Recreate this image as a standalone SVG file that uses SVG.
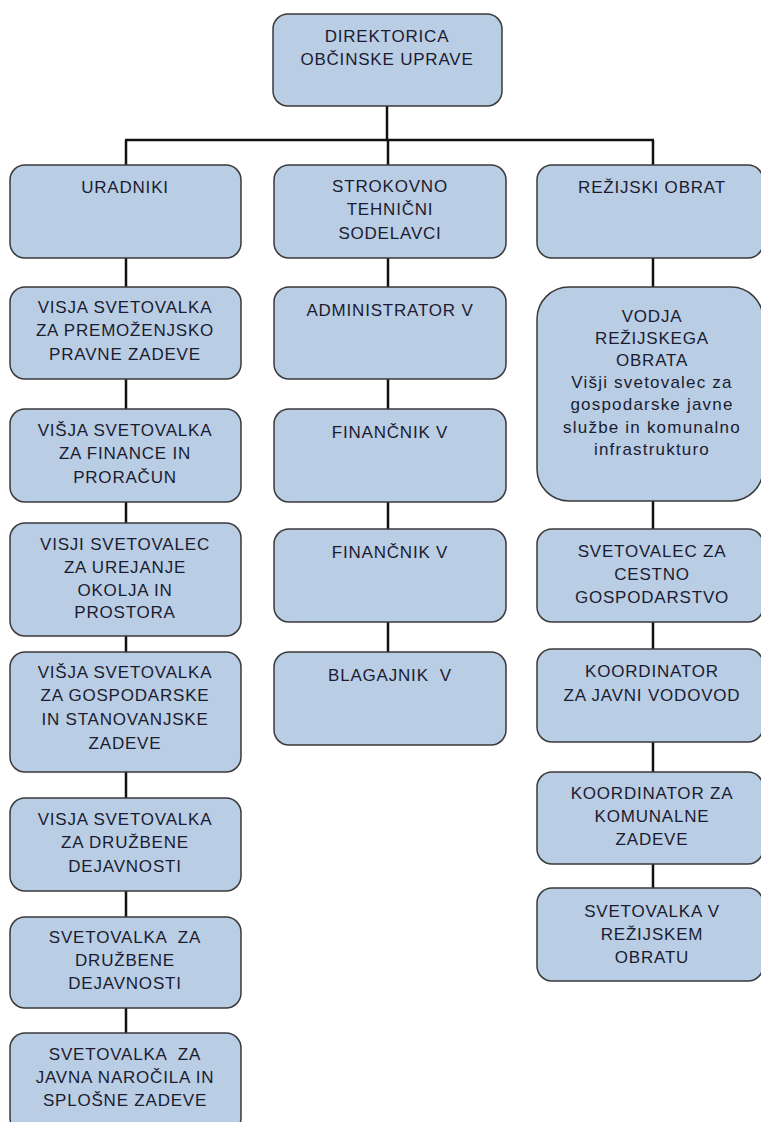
<svg xmlns="http://www.w3.org/2000/svg" width="761" height="1122" viewBox="0 0 761 1122">
<style>
.box{fill:#B9CDE5;stroke:#3a3a3a;stroke-width:1.5}
.t{font-family:"Liberation Sans",Arial,sans-serif;font-size:17px;fill:#1c1c30;text-anchor:middle;letter-spacing:0.8px}
.lc{letter-spacing:1.2px}
.c{stroke:#111;stroke-width:2.5;fill:none}
</style>
<rect width="761" height="1122" fill="#fff"/>
<g id="connectors">
<path class="c" d="M387 106V140M125 140H654M126 140V165M388 140V165M653 140V165"/>
<path class="c" d="M126 258V287M126 379V409M126 502V523M126 636V652M126 772V798M126 891V917M126 1008V1033"/>
<path class="c" d="M388 258V287M388 379V409M388 502V529M388 622V652"/>
<path class="c" d="M653 258V287M653 501V529M653 622V649M653 742V772M653 864V888"/>
</g>
<g id="n-direktorica"><rect class="box" x="273" y="14" width="229" height="92" rx="15"/><text class="t" x="387" y="42">DIREKTORICA</text><text class="t" x="387" y="65">OBČINSKE UPRAVE</text></g>
<g id="n-uradniki"><rect class="box" x="10" y="165" width="231" height="93" rx="15"/><text class="t" x="125" y="193">URADNIKI</text></g>
<g id="n-l1"><rect class="box" x="10" y="287" width="231" height="92" rx="15"/><text class="t" x="125" y="313">VISJA SVETOVALKA</text><text class="t" x="125" y="336">ZA PREMOŽENJSKO</text><text class="t" x="125" y="360">PRAVNE ZADEVE</text></g>
<g id="n-l2"><rect class="box" x="10" y="409" width="231" height="93" rx="15"/><text class="t" x="125" y="436">VIŠJA SVETOVALKA</text><text class="t" x="125" y="459">ZA FINANCE IN</text><text class="t" x="125" y="483">PRORAČUN</text></g>
<g id="n-l3"><rect class="box" x="10" y="523" width="231" height="113" rx="15"/><text class="t" x="125" y="550">VISJI SVETOVALEC</text><text class="t" x="125" y="573">ZA UREJANJE</text><text class="t" x="125" y="596">OKOLJA IN</text><text class="t" x="125" y="618">PROSTORA</text></g>
<g id="n-l4"><rect class="box" x="10" y="652" width="231" height="120" rx="15"/><text class="t" x="125" y="678">VIŠJA SVETOVALKA</text><text class="t" x="125" y="701">ZA GOSPODARSKE</text><text class="t" x="125" y="725">IN STANOVANJSKE</text><text class="t" x="125" y="749">ZADEVE</text></g>
<g id="n-l5"><rect class="box" x="10" y="798" width="231" height="93" rx="15"/><text class="t" x="125" y="825">VISJA SVETOVALKA</text><text class="t" x="125" y="848">ZA DRUŽBENE</text><text class="t" x="125" y="872">DEJAVNOSTI</text></g>
<g id="n-l6"><rect class="box" x="10" y="917" width="231" height="91" rx="15"/><text class="t" x="125" y="943" xml:space="preserve">SVETOVALKA  ZA</text><text class="t" x="125" y="966">DRUŽBENE</text><text class="t" x="125" y="989">DEJAVNOSTI</text></g>
<g id="n-l7"><rect class="box" x="10" y="1033" width="231" height="100" rx="15"/><text class="t" x="125" y="1060" xml:space="preserve">SVETOVALKA  ZA</text><text class="t" x="125" y="1083">JAVNA NAROČILA IN</text><text class="t" x="125" y="1106">SPLOŠNE ZADEVE</text></g>
<g id="n-strokovno"><rect class="box" x="274" y="165" width="232" height="93" rx="15"/><text class="t" x="390" y="192">STROKOVNO</text><text class="t" x="390" y="215">TEHNIČNI</text><text class="t" x="390" y="239">SODELAVCI</text></g>
<g id="n-m1"><rect class="box" x="274" y="287" width="232" height="92" rx="15"/><text class="t" x="390" y="316">ADMINISTRATOR V</text></g>
<g id="n-m2"><rect class="box" x="274" y="409" width="232" height="93" rx="15"/><text class="t" x="390" y="438">FINANČNIK V</text></g>
<g id="n-m3"><rect class="box" x="274" y="529" width="232" height="93" rx="15"/><text class="t" x="390" y="558">FINANČNIK V</text></g>
<g id="n-m4"><rect class="box" x="274" y="652" width="232" height="93" rx="15"/><text class="t" x="390" y="681" xml:space="preserve">BLAGAJNIK  V</text></g>
<g id="n-rezijski"><rect class="box" x="537" y="165" width="226" height="93" rx="15"/><text class="t" x="652" y="193">REŽIJSKI OBRAT</text></g>
<g id="n-r1"><rect class="box" x="537" y="287" width="226" height="214" rx="32"/><text class="t" x="652" y="322">VODJA</text><text class="t" x="652" y="344">REŽIJSKEGA</text><text class="t" x="652" y="366">OBRATA</text><text class="t lc" x="652" y="388">Višji svetovalec za</text><text class="t lc" x="652" y="410">gospodarske javne</text><text class="t lc" x="652" y="433">službe in komunalno</text><text class="t lc" x="652" y="455">infrastrukturo</text></g>
<g id="n-r2"><rect class="box" x="537" y="529" width="226" height="93" rx="15"/><text class="t" x="652" y="557">SVETOVALEC ZA</text><text class="t" x="652" y="580">CESTNO</text><text class="t" x="652" y="603">GOSPODARSTVO</text></g>
<g id="n-r3"><rect class="box" x="537" y="649" width="226" height="93" rx="15"/><text class="t" x="652" y="677">KOORDINATOR</text><text class="t" x="652" y="701">ZA JAVNI VODOVOD</text></g>
<g id="n-r4"><rect class="box" x="537" y="772" width="226" height="92" rx="15"/><text class="t" x="652" y="799">KOORDINATOR ZA</text><text class="t" x="652" y="822">KOMUNALNE</text><text class="t" x="652" y="845">ZADEVE</text></g>
<g id="n-r5"><rect class="box" x="537" y="888" width="226" height="93" rx="15"/><text class="t" x="652" y="917">SVETOVALKA V</text><text class="t" x="652" y="940">REŽIJSKEM</text><text class="t" x="652" y="963">OBRATU</text></g>
</svg>
